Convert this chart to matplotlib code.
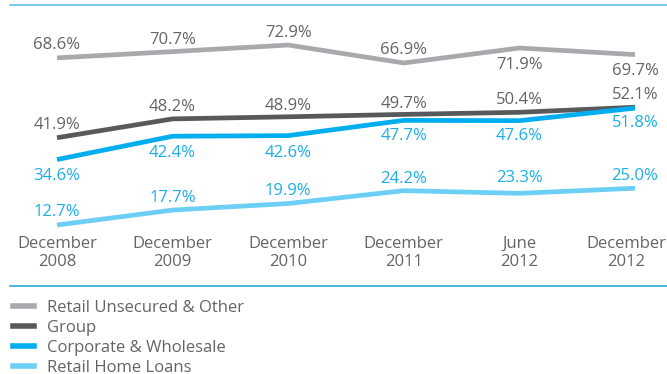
import matplotlib.pyplot as plt
from matplotlib.lines import Line2D
from matplotlib.transforms import ScaledTranslation

plt.rcParams['font.family'] = ['Open Sans', 'DejaVu Sans']

periods = ['December\n2008', 'December\n2009', 'December\n2010',
           'December\n2011', 'June\n2012', 'December\n2012']
retail_unsecured = [68.6, 70.7, 72.9, 66.9, 71.9, 69.7]
group = [41.9, 48.2, 48.9, 49.7, 50.4, 52.1]
corporate = [34.6, 42.4, 42.6, 47.7, 47.6, 51.8]
home_loans = [12.7, 17.7, 19.9, 24.2, 23.3, 25.0]

series_names = ['Retail Unsecured & Other', 'Group',
                'Corporate & Wholesale', 'Retail Home Loans']

light_grey = '#a7a9ac'
dark_grey = '#58595b'
blue = '#00aeef'
light_blue = '#6dcff6'
grey_text = '#636466'
blue_text = '#1aaeea'

fig = plt.figure(figsize=(6.67, 3.74), dpi=100)
ax = fig.add_axes([0, 1 - 232 / 374, 1, (232 - 30) / 374])

x = list(range(len(periods)))
series = [retail_unsecured, group, corporate, home_loans]
colors = [light_grey, dark_grey, blue, light_blue]
for vals, c in zip(series, colors):
    ax.plot(x, vals, color=c, lw=3.4, solid_capstyle='butt',
            solid_joinstyle='miter')

# value labels: above (+) or below (-) the line, offset in pixels
offsets = {
    0: ([13, 12, 12, 13, -17, -16], grey_text),
    1: ([13, 12, 11, 10, 12, 12], grey_text),
    2: ([-16, -17, -17, -16, -15, -15], blue_text),
    3: ([13, 12, 12, 12, 15, 12], blue_text),
}
for i, vals in enumerate(series):
    offs, tc = offsets[i]
    for xi, v, o in zip(x, vals, offs):
        ax.annotate(f'{v:.1f}%', (xi, v), xytext=(0, o),
                    textcoords='offset pixels', ha='center', va='center',
                    fontsize=12, color=tc)

ax.set_xlim(-57 / 115.6, (667 - 57) / 115.6)
ax.set_ylim((263 - 232) / 2.99, (263 - 30) / 2.99)
ax.set_xticks(x)
ax.set_xticklabels(periods, fontsize=12, color=grey_text, linespacing=1.12)
ax.tick_params(axis='x', length=0, pad=3)
ax.set_yticks([])
for s in ax.spines.values():
    s.set_visible(False)

# pull the last date label in from the right edge
last = ax.get_xticklabels()[-1]
last.set_transform(last.get_transform() +
                   ScaledTranslation(-9 / 100, 0, fig.dpi_scale_trans))

# horizontal rules at the top and above the legend
fig.add_artist(Line2D([10 / 667, 1], [1 - 5 / 374] * 2, color='#5bc0eb', lw=1.2))
fig.add_artist(Line2D([10 / 667, 1], [1 - 286 / 374] * 2, color='#29a9e0', lw=1.2))

handles = [Line2D([], [], color=c, lw=4) for c in colors]
fig.legend(handles, series_names, loc='upper left',
           bbox_to_anchor=(5 / 667, 1 - 292 / 374), frameon=False,
           fontsize=12, labelcolor=grey_text, handlelength=1.3,
           handletextpad=0.75, labelspacing=0.24, borderaxespad=0,
           borderpad=0.45)

fig.savefig('out.png', dpi=100)
